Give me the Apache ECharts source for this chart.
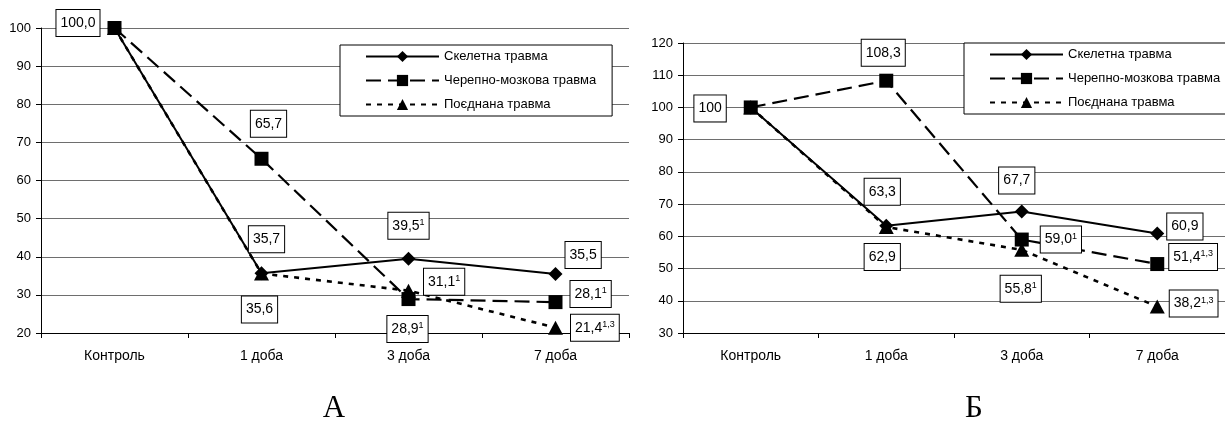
<!DOCTYPE html>
<html>
<head>
<meta charset="utf-8">
<script src="https://cdn.jsdelivr.net/npm/echarts@6/dist/echarts.min.js"></script>
<style>
  html, body { margin: 0; padding: 0; background: #fff; }
  #chart { width: 1225px; height: 438px; }
</style>
</head>
<body>
<div id="chart"></div>
<script>
// ---- data ----
const categories = ['Контроль', '1 доба', '3 доба', '7 доба'];
const seriesNames = ['Скелетна травма', 'Черепно-мозкова травма', 'Поєднана травма'];

// panel А
const skeletalA = [100, 35.7, 39.5, 35.5];
const cranialA  = [100, 65.7, 28.9, 28.1];
const combinedA = [100, 35.6, 31.1, 21.4];
const skeletalNotesA = ['', '', '1', ''];
const cranialNotesA  = ['', '', '1', '1'];
const combinedNotesA = ['', '', '1', '1,3'];
const yRangeA = [20, 100, 10];

// panel Б
const skeletalB = [100, 63.3, 67.7, 60.9];
const cranialB  = [100, 108.3, 59.0, 51.4];
const combinedB = [100, 62.9, 55.8, 38.2];
const skeletalNotesB = ['', '', '', ''];
const cranialNotesB  = ['', '', '1', '1,3'];
const combinedNotesB = ['', '', '1', '1,3'];
const yRangeB = [30, 120, 10];

const panelCaptions = ['А', 'Б'];

// ---- label placement: [position, distance, dx, dy] or null ----
const placeA = [
  [null, ['top', 14, 5, 0], ['top', 13, 0, 0], ['right', 3, 0, -19]],
  [['left', 8, 0, -5], ['top', 15, 7, 0], ['bottom', 10, -1, 0], ['right', 8, 0, -8]],
  [null, ['bottom', 16, -2, 0], ['right', 8, 0, -9], ['right', 8, 0, 0]]
];
const placeB = [
  [null, ['top', 14, -4, 0], ['top', 11, -5, 0], ['right', 3, 0, -7]],
  [['left', 18, 0, 1], ['top', 8, -3, 0], ['right', 12, 0, 0], ['right', 5, 0, -7]],
  [null, ['bottom', 10, -4, 0], ['bottom', 19, -1, 0], ['right', 5, 0, -3]]
];

const SANS = '"Liberation Sans", Arial, sans-serif';
const SERIF = '"Liberation Serif", "Times New Roman", serif';

const styles = [
  { symbol: 'diamond', symbolSize: 14, lineStyle: { type: 'solid', width: 2 } },
  { symbol: 'rect', symbolSize: 14, lineStyle: { type: [15, 7], width: 2.2 } },
  { symbol: 'triangle', symbolSize: [15, 14], lineStyle: { type: [5, 6], width: 2.6 } }
];

function fmt(v, digits) {
  return v.toFixed(digits).replace('.', ',');
}

function makeData(values, notes, places, controlDigits) {
  return values.map((v, i) => {
    const p = places[i];
    if (!p) return { value: v, label: { show: false } };
    const txt = fmt(v, i === 0 ? controlDigits : 1);
    const note = notes[i];
    return {
      value: v,
      label: {
        show: true,
        position: p[0],
        distance: p[1],
        offset: [p[2], p[3]],
        formatter: note ? '{v|' + txt + '}{s|' + note + '}' : '{v|' + txt + '}'
      }
    };
  });
}

function makeSeries(idx, valuesList, notesList, places, controlDigits) {
  return valuesList.map((values, k) => ({
    name: seriesNames[k],
    type: 'line',
    xAxisIndex: idx,
    yAxisIndex: idx,
    symbol: styles[k].symbol,
    symbolSize: styles[k].symbolSize,
    showAllSymbol: true,
    itemStyle: { color: '#000' },
    lineStyle: Object.assign({ color: '#000' }, styles[k].lineStyle),
    label: {
      color: '#000',
      backgroundColor: '#fff',
      borderColor: '#000',
      borderWidth: 1,
      padding: [5, 4, 5, 4],
      rich: {
        v: { fontSize: 14, fontFamily: SANS, color: '#000', lineHeight: 16 },
        s: { fontSize: 9, fontFamily: SANS, color: '#000', verticalAlign: 'top', lineHeight: 9 }
      }
    },
    emphasis: { disabled: true },
    data: makeData(values, notesList[k], places[k], controlDigits)
  }));
}

function xAxis(idx) {
  return {
    type: 'category',
    gridIndex: idx,
    data: categories,
    boundaryGap: true,
    axisLine: { lineStyle: { color: '#000', width: 1 } },
    axisTick: { show: true, length: 5, alignWithLabel: false, lineStyle: { color: '#000' } },
    axisLabel: { color: '#000', fontSize: 14, fontFamily: SANS, margin: 16 },
    splitLine: { show: false }
  };
}

function yAxis(idx, range) {
  return {
    type: 'value',
    gridIndex: idx,
    min: range[0],
    max: range[1],
    interval: range[2],
    axisLine: { show: true, lineStyle: { color: '#000', width: 1 } },
    axisTick: { show: true, length: 5, lineStyle: { color: '#000' } },
    axisLabel: { color: '#000', fontSize: 13, fontFamily: SANS, margin: 10 },
    splitLine: { show: true, lineStyle: { color: '#6e6e6e', width: 1 } }
  };
}

function legend(left, top) {
  return {
    left: left,
    top: top,
    orient: 'vertical',
    data: seriesNames,
    itemWidth: 73,
    itemHeight: 14,
    itemGap: 11,
    padding: [5, 16, 5, 25],
    borderColor: '#000',
    borderWidth: 1,
    backgroundColor: '#fff',
    selectedMode: false,
    textStyle: { color: '#000', fontSize: 13, fontFamily: SANS },
    itemStyle: { color: '#000' }
  };
}

const chart = echarts.init(document.getElementById('chart'), null, { renderer: 'canvas' });

chart.setOption({
  animation: false,
  backgroundColor: '#fff',
  grid: [
    { left: 41, top: 28, width: 588, height: 305 },
    { left: 683, top: 43, width: 552, height: 290 }
  ],
  xAxis: [xAxis(0), xAxis(1)],
  yAxis: [yAxis(0, yRangeA), yAxis(1, yRangeB)],
  legend: [legend(340, 45), legend(964, 43)],
  series: [].concat(
    makeSeries(0, [skeletalA, cranialA, combinedA], [skeletalNotesA, cranialNotesA, combinedNotesA], placeA, 1),
    makeSeries(1, [skeletalB, cranialB, combinedB], [skeletalNotesB, cranialNotesB, combinedNotesB], placeB, 0)
  ),
  graphic: [
    { type: 'text', x: 334, y: 409, style: { text: panelCaptions[0], fontSize: 31, fontFamily: SERIF, fill: '#000', align: 'center', verticalAlign: 'middle' } },
    { type: 'text', x: 974, y: 409, style: { text: panelCaptions[1], fontSize: 31, fontFamily: SERIF, fill: '#000', align: 'center', verticalAlign: 'middle' } }
  ]
});
</script>
</body>
</html>
